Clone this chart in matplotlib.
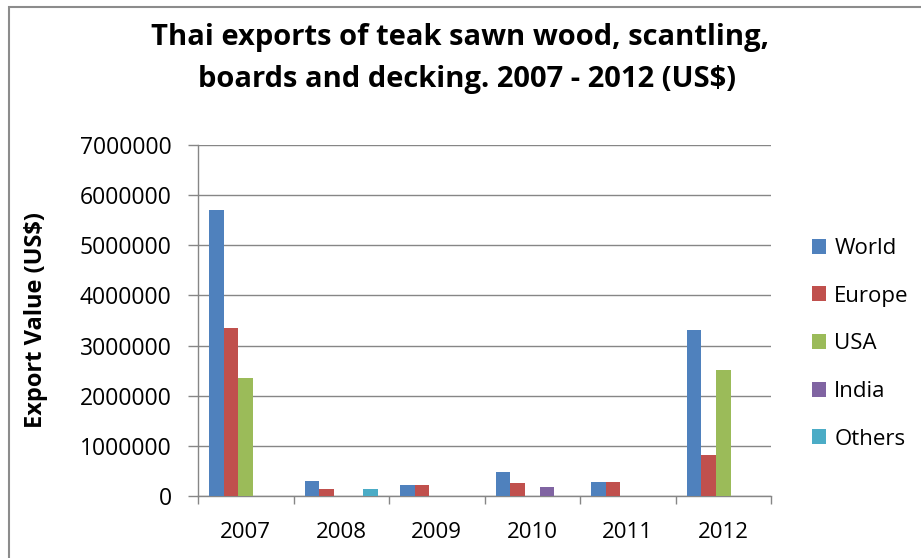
import matplotlib
matplotlib.use("Agg")
import matplotlib.pyplot as plt
from matplotlib.patches import Rectangle
import numpy as np

# Export values by destination, US$
years = ["2007", "2008", "2009", "2010", "2011", "2012"]
world = [5700000, 290000, 210000, 480000, 280000, 3320000]
europe = [3350000, 135000, 210000, 260000, 280000, 810000]
usa = [2360000, 0, 0, 0, 0, 2510000]
india = [0, 0, 0, 180000, 0, 0]
others = [0, 135000, 0, 0, 0, 0]

series_names = ["World", "Europe", "USA", "India", "Others"]
colors = ["#4F81BD", "#C0504D", "#9BBB59", "#8064A2", "#4BACC6"]

plt.rcParams["font.family"] = ["Open Sans", "DejaVu Sans"]

W, H = 921, 558
fig = plt.figure(figsize=(W / 100, H / 100), dpi=100)
ax = fig.add_axes([198 / W, 1 - 496 / H, (771 - 198) / W, (496 - 145) / H])

# clustered columns, 150% gap between clusters
x = np.arange(len(years))
bar_w = 1 / 6.5
for k, (name, vals, c) in enumerate(zip(series_names, [world, europe, usa, india, others], colors)):
    ax.bar(x + (k - 2) * bar_w, vals, width=bar_w, color=c, label=name, zorder=3)

ax.set_xlim(-0.5, len(years) - 0.5)
ax.set_ylim(0, 7000000)
ax.set_yticks(np.arange(0, 7000001, 1000000))
ax.set_yticklabels([f"{v:d}" for v in range(0, 7000001, 1000000)])

# category labels centered, tick marks between categories
ax.set_xticks(np.arange(-0.5, len(years)), minor=False)
ax.set_xticklabels([])
ax.set_xticks(x, minor=True)
ax.set_xticklabels(years, minor=True)
ax.tick_params(axis="x", which="major", length=6, color="#868686", width=1)
ax.tick_params(axis="x", which="minor", length=0, pad=19, labelsize=16)
ax.tick_params(axis="y", length=7, color="#868686", width=1, pad=12, labelsize=16.5)

ax.grid(axis="y", color="#868686", linewidth=1, zorder=0)
for s in ["top", "right"]:
    ax.spines[s].set_visible(False)
for s in ["left", "bottom"]:
    ax.spines[s].set_color("#868686")
    ax.spines[s].set_linewidth(1)

ax.set_ylabel("Export Value (US$)", fontsize=17, fontweight="bold")
ax.yaxis.set_label_coords(-0.262, 0.5)

fig.text(460 / W, 1 - 38 / H, "Thai exports of teak sawn wood, scantling,",
         ha="center", va="center", fontsize=21, fontweight="bold")
fig.text(467 / W, 1 - 80 / H, "boards and decking. 2007 - 2012 (US$)",
         ha="center", va="center", fontsize=21, fontweight="bold")

ax.legend(loc="upper left", bbox_to_anchor=(792 / W, 1 - 218 / H), bbox_transform=fig.transFigure,
          frameon=False, fontsize=16, handlelength=0.65, handleheight=0.65,
          handletextpad=0.35, labelspacing=1.2)

# outer chart border
fig.patches.append(Rectangle((9 / W, -0.1), 2, 1.1 - 7 / H, transform=fig.transFigure,
                             fill=False, edgecolor="#8c8c8c", linewidth=1.5, clip_on=False))

fig.savefig("out.png", dpi=100)
